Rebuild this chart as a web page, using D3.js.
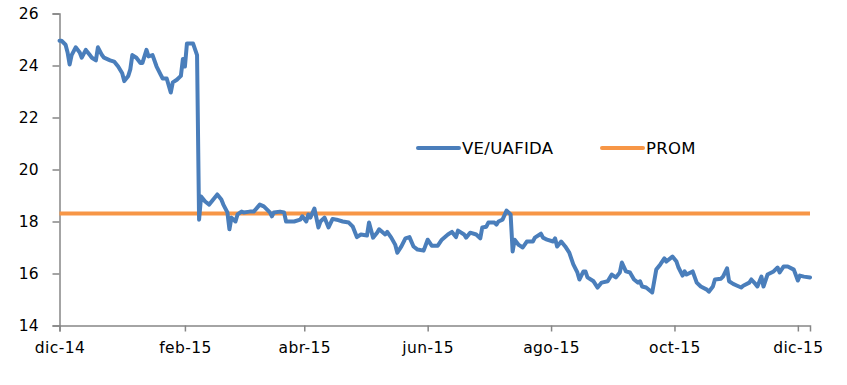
<!DOCTYPE html>
<html>
<head>
<meta charset="utf-8">
<script src="https://cdn.jsdelivr.net/npm/d3@7"></script>
<style>
  body { margin: 0; background: #fff; }
  text { font-family: "DejaVu Sans", Verdana, sans-serif; }
</style>
</head>
<body>
<div id="chart"></div>
<script>
// series: VE/UAFIDA (dates + values)
var dates = [
  "2014-12-01","2014-12-02","2014-12-04","2014-12-05","2014-12-06","2014-12-07","2014-12-09","2014-12-11",
  "2014-12-12","2014-12-14","2014-12-16","2014-12-17","2014-12-19","2014-12-20","2014-12-22","2014-12-23",
  "2014-12-26","2014-12-28","2014-12-30","2015-01-01","2015-01-02","2015-01-04","2015-01-05","2015-01-06",
  "2015-01-08","2015-01-10","2015-01-11","2015-01-13","2015-01-14","2015-01-16","2015-01-18","2015-01-20",
  "2015-01-21","2015-01-23","2015-01-25","2015-01-26","2015-01-28","2015-01-30","2015-01-31","2015-02-01",
  "2015-02-02","2015-02-05","2015-02-07","2015-02-08","2015-02-09","2015-02-11","2015-02-13","2015-02-15",
  "2015-02-17","2015-02-19","2015-02-20","2015-02-22","2015-02-23","2015-02-24","2015-02-26","2015-02-27",
  "2015-03-01","2015-03-02","2015-03-05","2015-03-07","2015-03-10","2015-03-12","2015-03-15","2015-03-16",
  "2015-03-17","2015-03-20","2015-03-22","2015-03-23","2015-03-27","2015-03-30","2015-03-31","2015-04-02",
  "2015-04-03","2015-04-04","2015-04-06","2015-04-08","2015-04-09","2015-04-11","2015-04-13","2015-04-15",
  "2015-04-17","2015-04-20","2015-04-23","2015-04-25","2015-04-27","2015-04-29","2015-05-02","2015-05-03",
  "2015-05-05","2015-05-07","2015-05-08","2015-05-11","2015-05-12","2015-05-14","2015-05-16","2015-05-17",
  "2015-05-19","2015-05-21","2015-05-23","2015-05-25","2015-05-27","2015-05-30","2015-06-01","2015-06-03",
  "2015-06-06","2015-06-08","2015-06-11","2015-06-13","2015-06-15","2015-06-16","2015-06-19","2015-06-20",
  "2015-06-22","2015-06-25","2015-06-27","2015-06-28","2015-06-30","2015-07-01","2015-07-04","2015-07-05",
  "2015-07-06","2015-07-08","2015-07-10","2015-07-12","2015-07-13","2015-07-14","2015-07-16","2015-07-18",
  "2015-07-20","2015-07-23","2015-07-24","2015-07-27","2015-07-28","2015-07-30","2015-08-02","2015-08-03",
  "2015-08-04","2015-08-06","2015-08-08","2015-08-10","2015-08-12","2015-08-14","2015-08-15","2015-08-17",
  "2015-08-18","2015-08-19","2015-08-22","2015-08-24","2015-08-26","2015-08-29","2015-08-31","2015-09-02",
  "2015-09-04","2015-09-05","2015-09-07","2015-09-09","2015-09-11","2015-09-13","2015-09-14","2015-09-15",
  "2015-09-17","2015-09-20","2015-09-22","2015-09-24","2015-09-26","2015-09-27","2015-09-30","2015-10-02",
  "2015-10-03","2015-10-05","2015-10-06","2015-10-07","2015-10-10","2015-10-12","2015-10-14","2015-10-17",
  "2015-10-18","2015-10-20","2015-10-21","2015-10-24","2015-10-25","2015-10-27","2015-10-28","2015-10-30",
  "2015-11-01","2015-11-03","2015-11-04","2015-11-07","2015-11-08","2015-11-10","2015-11-11","2015-11-13",
  "2015-11-14","2015-11-16","2015-11-19","2015-11-21","2015-11-22","2015-11-24","2015-11-26","2015-11-29",
  "2015-12-01","2015-12-02","2015-12-04","2015-12-07"
];
var values = [
  24.95,24.95,24.8,24.5,24.04,24.4,24.7,24.5,
  24.3,24.6,24.4,24.3,24.2,24.7,24.4,24.3,
  24.2,24.15,23.96,23.7,23.4,23.6,23.85,24.4,
  24.3,24.1,24.1,24.6,24.35,24.4,23.96,23.65,
  23.5,23.5,22.96,23.35,23.45,23.6,24.25,23.96,
  24.85,24.85,24.4,18.07,18.96,18.77,18.65,18.85,
  19.04,18.85,18.65,18.35,17.7,18.15,18.0,18.27,
  18.38,18.35,18.38,18.38,18.65,18.58,18.35,18.2,
  18.35,18.38,18.35,18.0,18.0,18.07,18.2,18.0,
  18.27,18.15,18.5,17.77,18.0,18.15,17.77,18.1,
  18.07,18.0,17.96,17.8,17.4,17.5,17.46,17.96,
  17.38,17.57,17.7,17.5,17.6,17.38,17.1,16.8,
  17.04,17.35,17.4,17.04,16.92,16.88,17.3,17.07,
  17.07,17.3,17.5,17.6,17.4,17.65,17.5,17.38,
  17.57,17.5,17.35,17.77,17.8,17.96,17.96,17.88,
  18.0,18.07,18.42,18.27,16.85,17.3,17.1,17.0,
  17.23,17.23,17.38,17.53,17.38,17.3,17.23,17.35,
  17.04,17.23,17.04,16.8,16.35,16.04,15.77,16.08,
  16.08,15.85,15.7,15.46,15.65,15.7,15.96,15.85,
  16.04,16.42,16.08,16.04,15.77,15.65,15.7,15.5,
  15.46,15.27,16.15,16.35,16.58,16.46,16.65,16.46,
  16.23,15.92,16.08,15.96,16.08,15.65,15.5,15.38,
  15.3,15.5,15.77,15.8,15.88,16.2,15.7,15.6,
  15.53,15.46,15.53,15.65,15.77,15.6,15.5,15.88,
  15.5,15.96,16.08,16.23,16.04,16.27,16.27,16.15,
  15.73,15.92,15.88,15.85
];
var promValue = 18.31;
var tickDates = ["2014-12-01","2015-02-01","2015-04-01","2015-06-01","2015-08-01","2015-10-01","2015-12-01"];
var monthNames = ["ene","feb","mar","abr","may","jun","jul","ago","sep","oct","nov","dic"];
var yTicks = [14, 16, 18, 20, 22, 24, 26];

var W = 847, H = 385;
var margin = { top: 13.5, right: 37, bottom: 59.5, left: 59.5 };

var parse = d3.timeParse("%Y-%m-%d");
var data = dates.map(function(d, i) { return { date: parse(d), value: values[i] }; });

var svg = d3.select("#chart").append("svg")
    .attr("width", W)
    .attr("height", H);

var x = d3.scaleTime()
    .domain([parse("2014-12-01"), parse("2015-12-07")])
    .range([margin.left, W - margin.right]);

var y = d3.scaleLinear()
    .domain([14, 26])
    .range([H - margin.bottom, margin.top]);

// y axis
var yAxis = svg.append("g")
    .attr("transform", "translate(" + margin.left + ",0)")
    .call(d3.axisLeft(y).tickValues(yTicks).tickSize(7).tickPadding(14).tickFormat(d3.format("d")));

// x axis
var xAxis = svg.append("g")
    .attr("transform", "translate(0," + (H - margin.bottom) + ")")
    .call(d3.axisBottom(x)
        .tickValues(tickDates.map(parse))
        .tickSize(6)
        .tickPadding(10)
        .tickFormat(function(d) {
            return monthNames[d.getMonth()] + "-" + String(d.getFullYear()).slice(2);
        }));

[yAxis, xAxis].forEach(function(g) {
    g.select(".domain").attr("stroke", "#868686").attr("stroke-width", 1.5);
    g.selectAll(".tick line").attr("stroke", "#868686").attr("stroke-width", 1.5);
    g.selectAll(".tick text").attr("fill", "#000").style("font-size", "15.5px")
        .style("font-family", "'DejaVu Sans', Verdana, sans-serif");
});
xAxis.selectAll(".tick text").style("letter-spacing", "0.4px");

// average line
svg.append("line")
    .attr("x1", x.range()[0])
    .attr("x2", x.range()[1])
    .attr("y1", y(promValue))
    .attr("y2", y(promValue))
    .attr("stroke", "#F79646")
    .attr("stroke-width", 4);

// series line
var line = d3.line()
    .x(function(d) { return x(d.date); })
    .y(function(d) { return y(d.value); });

svg.append("path")
    .datum(data)
    .attr("d", line)
    .attr("fill", "none")
    .attr("stroke", "#4A7EBB")
    .attr("stroke-width", 4)
    .attr("stroke-linejoin", "round")
    .attr("stroke-linecap", "round");

// legend
var legend = [
    { name: "VE/UAFIDA", color: "#4A7EBB", x: 418 },
    { name: "PROM", color: "#F79646", x: 602 }
];
var lg = svg.selectAll(".legend").data(legend).enter().append("g")
    .attr("class", "legend")
    .attr("transform", function(d) { return "translate(" + d.x + ",148)"; });
lg.append("line")
    .attr("x1", 0).attr("x2", 41)
    .attr("stroke", function(d) { return d.color; })
    .attr("stroke-width", 4)
    .attr("stroke-linecap", "round");
lg.append("text")
    .attr("x", 44)
    .attr("y", 6)
    .style("font-size", "16.5px")
    .style("letter-spacing", "0.3px")
    .attr("fill", "#000")
    .text(function(d) { return d.name; });
</script>
</body>
</html>
